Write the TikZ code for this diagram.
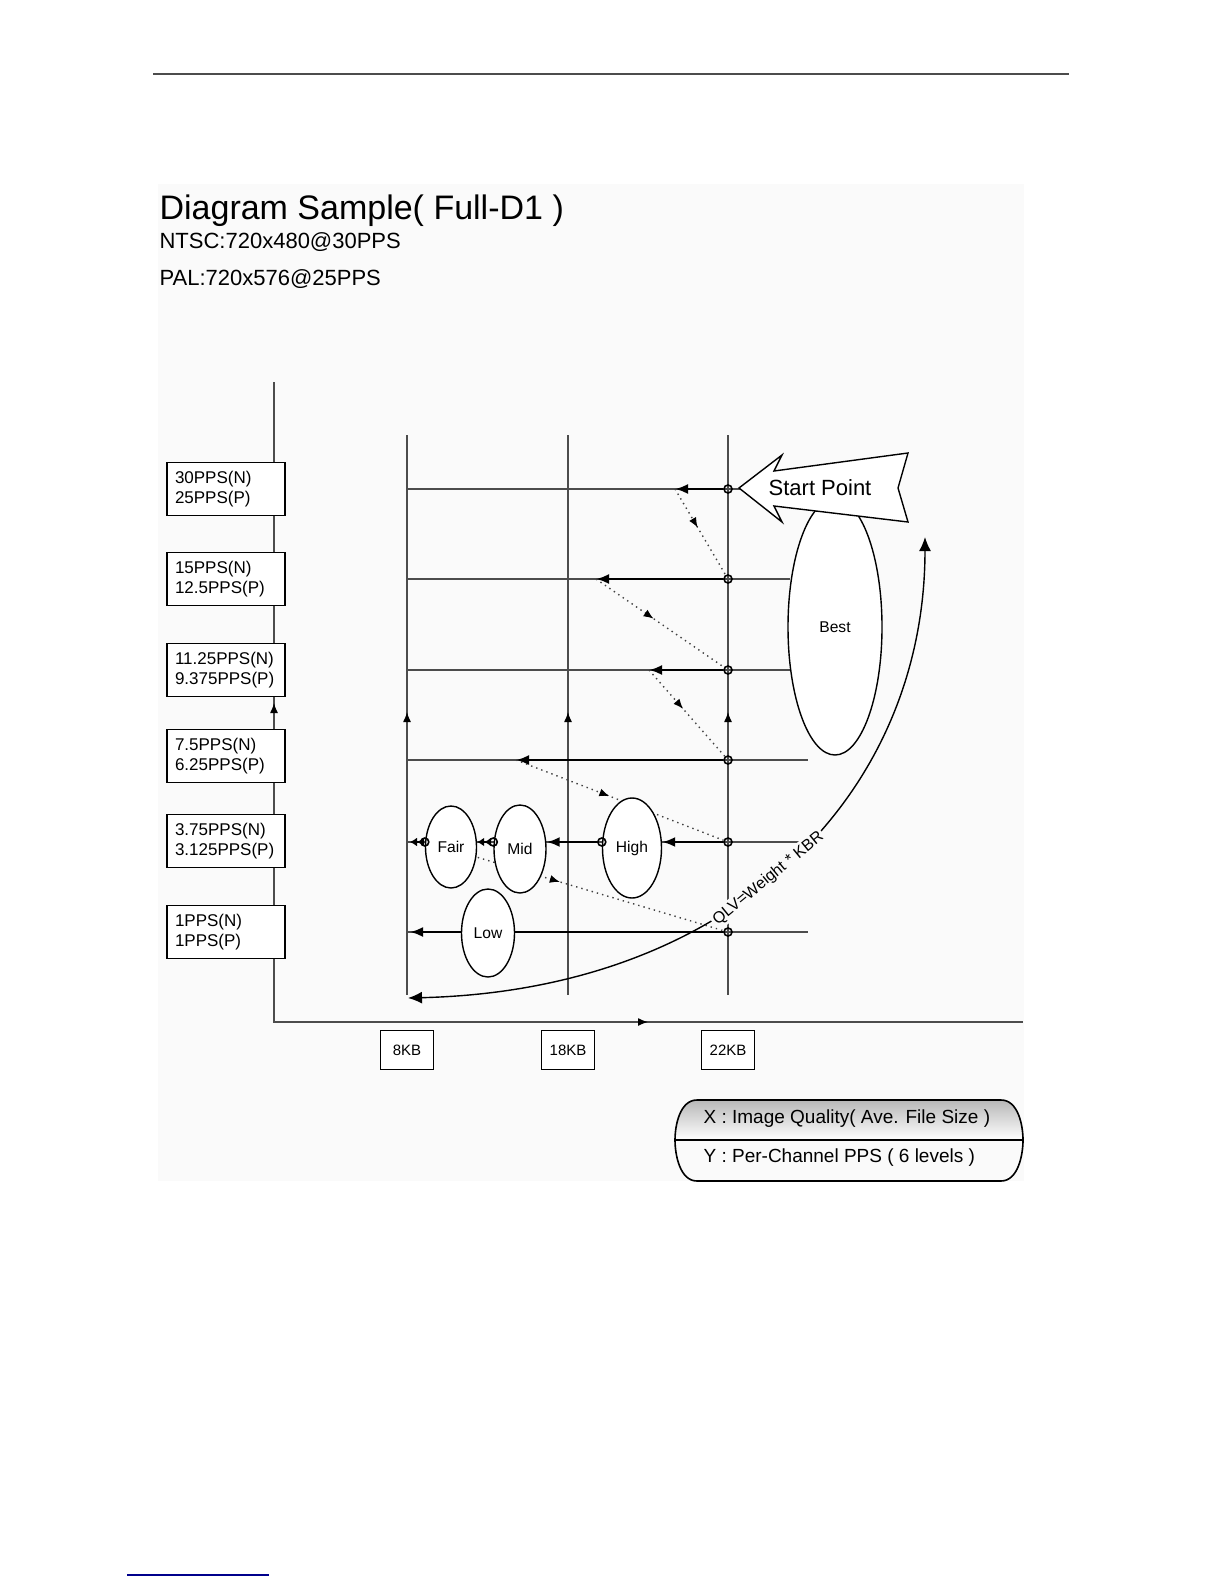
\documentclass[tikz,border=0pt]{standalone}
\usepackage{fontspec}
\setmainfont{Liberation Sans}
\usetikzlibrary{arrows.meta, shapes.geometric, decorations.markings}

\tikzset{
  caja/.style={draw, fill=white, line width=0.7pt, inner sep=0pt},
  ovalo/.style={ellipse, draw, fill=white, inner sep=0pt, line width=0.7pt,
    font=\fontsize{7.8}{9}\selectfont},
  punto/.style={circle, draw, inner sep=0pt, minimum size=4pt, line width=0.8pt},
  rejilla/.style={black!70, line width=0.65pt},
  grueso/.style={-{Latex[length=6.5pt, width=5pt]}, line width=1.2pt},
  doble/.style={-{Latex[length=3.5pt, width=4.5pt]Latex[length=3.5pt, width=4.5pt]}, line width=1.2pt},
  flechita/.style={-{Latex[length=5pt, width=4pt, color=black]}},
  salto/.style={dotted, black!75, line width=0.7pt, postaction={decorate},
    decoration={markings, mark=at position 0.45 with {\arrow[black]{Latex[length=5pt, width=4pt]}}}},
  texto/.style={anchor=base west, inner sep=0pt}
}

\begin{document}
\begin{tikzpicture}[x=0.5pt, y=-0.5pt, line width=0.6pt]
  \useasboundingbox (0,0) rectangle (1224,1584);
  % fondo y reglas de pagina
  \fill[black!2] (158,184) rectangle (1024,1181);
  \draw[black!70, line width=0.7pt] (153,74) -- (1069,74);
  \draw[blue!55!black, line width=1pt] (127,1575) -- (269,1575);
  % titulos
  \node[texto, font=\fontsize{17}{20}\selectfont] (titulo) at (159,219) {Diagram Sample( Full-D1 )};
  \node[texto, font=\fontsize{11}{13}\selectfont] (ntsc) at (159,248) {NTSC:720x480@30PPS};
  \node[texto, font=\fontsize{11}{13}\selectfont] (pal) at (159,285) {PAL:720x576@25PPS};
  % ejes
  \coordinate (o) at (274,1022);
  \draw[rejilla] (274,382) -- (o) -- (1023,1022);
  \draw[rejilla, flechita] (274,722) -- (274,703);
  \draw[rejilla, flechita] (628,1022) -- (648,1022);
  % rejilla
  \foreach \x in {407,568,728} {
    \draw[rejilla] (\x,435) -- (\x,995);
    \draw[rejilla, flechita] (\x,730) -- (\x,712);
  }
  \foreach \y/\e in {489/740, 579/790, 670/790, 760/808, 842/808, 932/808}
    \draw[rejilla] (407,\y) -- (\e,\y);
  \foreach \y [count=\i] in {489,579,670,760,842,932}
    \node[punto] (c\i) at (728,\y) {};
  % puntos de llegada
  \coordinate (f1) at (675,489);
  \coordinate (f2) at (596,579);
  \coordinate (f3) at (649,670);
  \coordinate (f4) at (516,760);
  \coordinate (q3) at (426,842);
  \coordinate (x5) at (410,842);
  \coordinate (x6) at (410,932);
  % saltos punteados
  \draw[salto] (f1) -- (c2);
  \draw[salto] (f2) -- (c3);
  \draw[salto] (f3) -- (c4);
  \draw[salto] (f4) -- (c5);
  \draw[salto] (q3) -- (c6);
  % flechas gruesas
  \foreach \i in {1,...,4}
    \draw[grueso] (c\i) -- (f\i);
  \draw[grueso] (c6) -- (x6);
  % ovalos de calidad
  \node[ovalo, minimum width=29.5pt, minimum height=50pt] (high) at (632,848) {High};
  \node[ovalo, minimum width=26pt, minimum height=44pt] (mid) at (520,849) {Mid};
  \node[ovalo, minimum width=25.5pt, minimum height=41pt] (fair) at (451,847) {Fair};
  \node[ovalo, minimum width=26.5pt, minimum height=44pt] (low) at (488,933) {Low};
  \node[ovalo, minimum width=47pt, minimum height=128pt] (best) at (835,627) {Best};
  % fila de 3.75PPS
  \draw[grueso] (c5) -- (c5 -| high.east);
  \node[punto] (p1) at (high.west |- c5) {};
  \draw[grueso] (p1) -- (p1 -| mid.east);
  \node[punto] (p2) at (mid.west |- c5) {};
  \draw[doble] (p2) -- (p2 -| fair.east);
  \node[punto] (p3) at (fair.west |- c5) {};
  \draw[doble] (p3) -- (x5);
  % flecha de inicio
  \draw[fill=white, line width=0.7pt] (739,488) -- (782,455) -- (774,471) -- (908,453) -- (898,488)
    -- (908,522) -- (774,506) -- (782,522) -- cycle;
  \node[font=\fontsize{11}{13}\selectfont] (inicio) at (820,488) {Start Point};
  % arco QLV
  \coordinate (qa) at (408,998);
  \coordinate (qb) at (925,537);
  \draw[{Latex[length=7pt, width=6pt]}-{Latex[length=7pt, width=6pt]}, line width=0.7pt]
    (qa) .. controls (738,990) and (925,790) .. (qb)
    node[pos=0.46, sloped, fill=black!2, inner sep=1pt, font=\fontsize{8}{9}\selectfont] (qlv) {QLV=Weight * KBR};
  % etiquetas del eje y
  \foreach \y/\a/\b [count=\i] in {489/30PPS(N)/25PPS(P), 579/15PPS(N)/12.5PPS(P),
      670/11.25PPS(N)/9.375PPS(P), 756/7.5PPS(N)/6.25PPS(P),
      841/3.75PPS(N)/3.125PPS(P), 932/1PPS(N)/1PPS(P)}
    \node[caja, text width=51pt, align=left, minimum height=26.5pt, inner xsep=4pt,
      font=\fontsize{8.5}{10}\selectfont] (y\i) at (226,\y) {\a\\\b};
  % etiquetas del eje x
  \foreach \x/\t in {407/8KB, 568/18KB, 728/22KB}
    \node[caja, minimum width=26.5pt, minimum height=19.5pt, font=\fontsize{7.5}{9}\selectfont] (x\t) at (\x,1050) {\t};
  % leyenda
  \shade[top color=black!28, bottom color=white] (697,1100) -- (1001,1100)
    .. controls (1018,1100) and (1023,1125) .. (1023,1140) -- (675,1140)
    .. controls (675,1125) and (680,1100) .. (697,1100) -- cycle;
  \draw[line width=0.8pt] (697,1100) -- (1001,1100)
    .. controls (1018,1100) and (1023,1125) .. (1023,1140)
    .. controls (1023,1155) and (1018,1181) .. (1001,1181) -- (697,1181)
    .. controls (680,1181) and (675,1155) .. (675,1140)
    .. controls (675,1125) and (680,1100) .. (697,1100) -- cycle;
  \draw[line width=0.8pt] (675,1140) -- (1023,1140);
  \node[anchor=west, inner sep=0pt, font=\fontsize{9.5}{11}\selectfont] (ejex) at (703,1119) {X : Image Quality( Ave. File Size )};
  \node[anchor=west, inner sep=0pt, font=\fontsize{9.5}{11}\selectfont] (ejey) at (703,1158) {Y : Per-Channel PPS ( 6 levels )};
\end{tikzpicture}
\end{document}
